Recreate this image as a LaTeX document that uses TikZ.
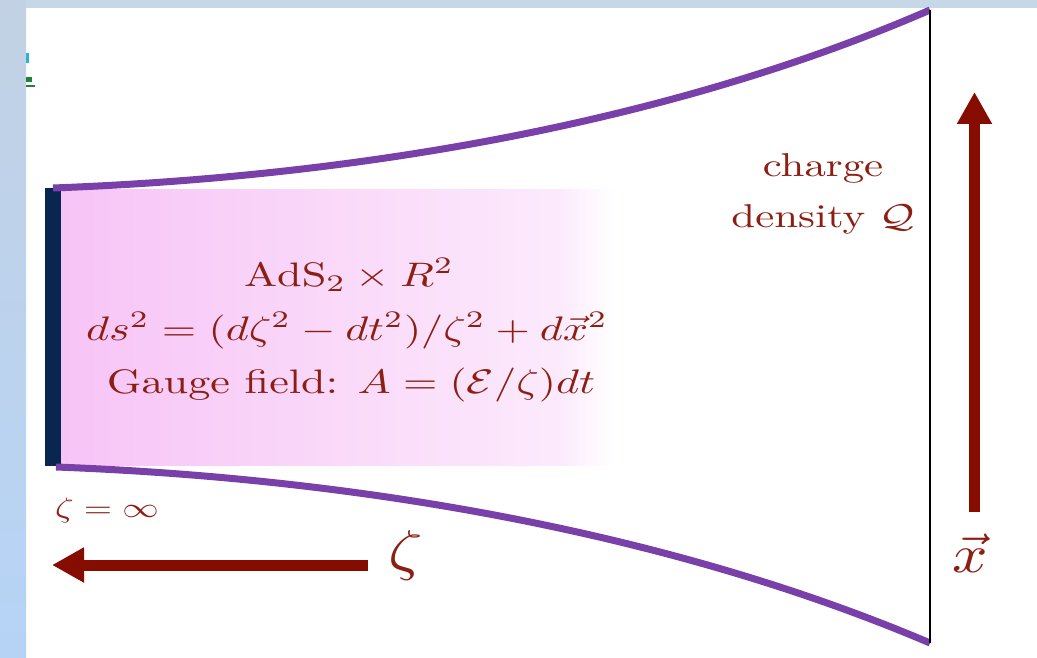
\documentclass[tikz,border=0pt]{standalone}
\usepackage{graphicx}
\usetikzlibrary{arrows.meta}
\definecolor{textred}{RGB}{140,30,20}
\definecolor{arrred}{RGB}{135,12,0}
\definecolor{purp}{RGB}{120,64,168}
\definecolor{navy}{RGB}{8,38,80}
\definecolor{pinkL}{RGB}{247,196,246}
\definecolor{pinkM}{RGB}{249,212,249}
\definecolor{pinkR}{RGB}{252,234,252}
\definecolor{bandtop}{RGB}{198,216,232}
\definecolor{bandA}{RGB}{194,210,228}
\definecolor{bandB}{RGB}{182,211,246}
\definecolor{tealc}{RGB}{40,180,210}
\definecolor{greenc}{RGB}{30,130,60}
\begin{document}
\begin{tikzpicture}[x=1pt,y=-1pt,
  txt/.style={text=textred, inner sep=0pt, anchor=base, font=\fontsize{10}{12}\selectfont},
  purpline/.style={draw=purp, line width=7pt},
  bigarrow/.style={draw=arrred, line width=11pt, -{Triangle[length=32pt,width=33pt]}},
]
\useasboundingbox (0,0) rectangle (1037,658);
\fill[white] (0,0) rectangle (1037,658);
% window bands
\shade[top color=bandA, bottom color=bandB] (0,0) rectangle (26,658);
\fill[bandtop] (26,0) rectangle (1037,8);
\fill[tealc] (26,53) rectangle (29,63);
\fill[greenc] (26,77) rectangle (32,82);
\fill[greenc] (26,85) rectangle (35,87);
% pink region
\shade[left color=pinkL, middle color=pinkM, right color=pinkR] (61,190) rectangle (560,465);
\shade[left color=pinkR, right color=white] (559.5,190) rectangle (614,465);
% boundary bar
\fill[navy] (45,188) rectangle (61,466);
% curves
\draw[purpline] (53,188) .. controls (400,175) and (700,110) .. (930,10);
\draw[purpline] (56,467) .. controls (400,480) and (700,545) .. (930,643);
% vertical line
\draw[black, line width=2pt] (930,10) -- (930,643);
% arrows
\coordinate (zs) at (368,565);
\coordinate (ze) at (52,565);
\draw[bigarrow] (zs) -- (ze);
\coordinate (xs) at (974.5,512);
\coordinate (xe) at (974.5,92);
\draw[bigarrow] (xs) -- (xe);
% texts
\node[txt] (l1) at (349,286) {\scalebox{4.42}[3.4]{$\mathrm{AdS}_2\times R^2$}};
\node[txt] (l2) at (347,340) {\scalebox{4.42}[3.4]{$ds^2=(d\zeta^2-dt^2)/\zeta^2+d\vec{x}^2$}};
\node[txt] (l3) at (351,393) {\scalebox{4.42}[3.4]{Gauge field: $A=(\mathcal{E}/\zeta)dt$}};
\node[txt] (ch1) at (823,177) {\scalebox{4.29}[3.3]{charge}};
\node[txt] (ch2) at (823,227) {\scalebox{4.29}[3.3]{density $\mathcal{Q}$}};
\node[txt] (zinf) at (107,517) {\scalebox{3.64}[2.8]{$\zeta=\infty$}};
\node[txt] (zeta) at (406,569) {\scalebox{6.72}[5.6]{$\zeta$}};
\node[txt] (xvec) at (970,572) {\scalebox{6.21}[5.4]{$\vec{x}$}};
\end{tikzpicture}
\end{document}
